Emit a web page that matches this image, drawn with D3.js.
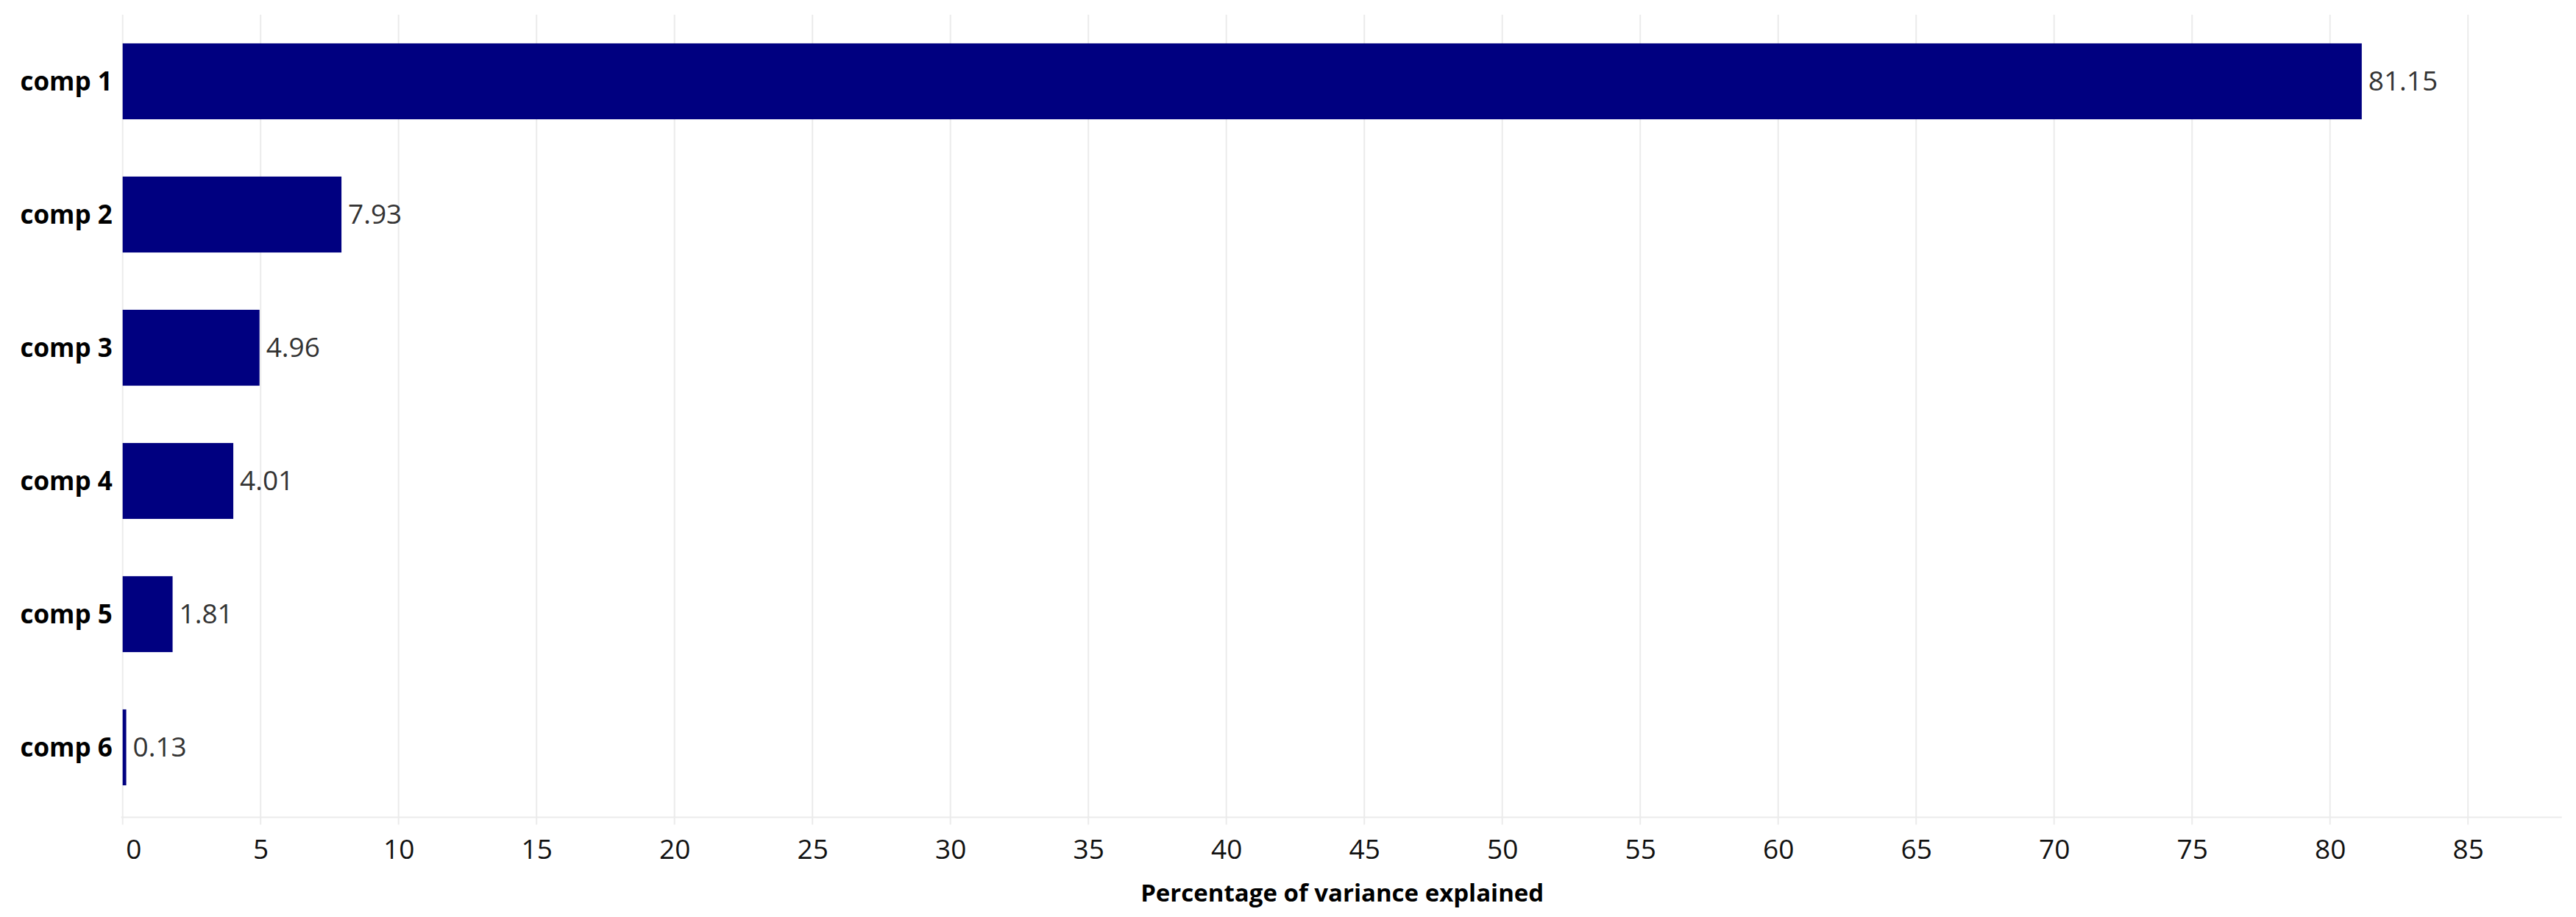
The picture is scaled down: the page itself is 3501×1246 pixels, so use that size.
<!DOCTYPE html>
<html>
<head>
<meta charset="utf-8">
<script src="https://cdn.jsdelivr.net/npm/d3@7"></script>
<style>
  html, body { margin: 0; padding: 0; background: #ffffff; }
  svg { display: block; }
</style>
</head>
<body>
<script>
// ---- Data ----
const categories = ["comp 1", "comp 2", "comp 3", "comp 4", "comp 5", "comp 6"];
const values = [81.15, 7.93, 4.96, 4.01, 1.81, 0.13];
const valueLabels = ["81.15", "7.93", "4.96", "4.01", "1.81", "0.13"];
const xTickValues = [0, 5, 10, 15, 20, 25, 30, 35, 40, 45, 50, 55, 60, 65, 70, 75, 80, 85];
const xAxisTitle = "Percentage of variance explained";

const rows = categories.map((c, i) => ({ cat: c, value: values[i], label: valueLabels[i] }));

// ---- Layout ----
const W = 3501, H = 1246;
const plot = { left: 166.7, right: 3481.7, top: 20, bottom: 1106, axisY: 1110.5 };
const FONT = "'Open Sans', 'Noto Sans', sans-serif";

const svg = d3.select("body").append("svg")
  .attr("width", W).attr("height", H)
  .attr("viewBox", `0 0 ${W} ${H}`);

const x = d3.scaleLinear().domain([0, 88.4]).range([plot.left, plot.right]);
const y = d3.scaleBand().domain(categories)
  .range([plot.top, plot.bottom])
  .paddingInner(0.43).paddingOuter(0.215);

// gridlines (vertical) with small tick extension below axis
svg.append("g").selectAll("line").data(xTickValues).join("line")
  .attr("x1", d => x(d)).attr("x2", d => x(d))
  .attr("y1", plot.top).attr("y2", plot.axisY + 10)
  .attr("stroke", "#ebebeb").attr("stroke-width", 2);

// x axis baseline
svg.append("line")
  .attr("x1", plot.left - 2).attr("x2", plot.right)
  .attr("y1", plot.axisY).attr("y2", plot.axisY)
  .attr("stroke", "#ebebeb").attr("stroke-width", 2);

// bars
svg.append("g").selectAll("rect").data(rows).join("rect")
  .attr("x", x(0))
  .attr("y", d => y(d.cat))
  .attr("width", d => Math.max(0, x(d.value) - x(0)))
  .attr("height", y.bandwidth())
  .attr("fill", "#000080");

// value labels
svg.append("g").selectAll("text").data(rows).join("text")
  .attr("x", d => x(d.value) + 9)
  .attr("y", d => y(d.cat) + y.bandwidth() / 2)
  .attr("dy", "0.35em")
  .attr("font-family", FONT)
  .attr("font-size", 37)
  .attr("fill", "#333333")
  .text(d => d.label);

// category labels
svg.append("g").selectAll("text").data(rows).join("text")
  .attr("x", plot.left - 14)
  .attr("y", d => y(d.cat) + y.bandwidth() / 2)
  .attr("dy", "0.35em")
  .attr("text-anchor", "end")
  .attr("font-family", FONT)
  .attr("font-weight", "bold")
  .attr("font-size", 35)
  .attr("fill", "#000000")
  .text(d => d.cat);

// x axis tick labels (using d3 axis for positioning)
const xAxis = d3.axisBottom(x).tickValues(xTickValues).tickSize(0).tickPadding(0).tickFormat(d3.format("d"));
const gx = svg.append("g")
  .attr("transform", `translate(0, ${plot.axisY})`)
  .call(xAxis);
gx.select(".domain").remove();
gx.selectAll(".tick text")
  .attr("y", 0)
  .attr("dy", 56)
  .attr("font-family", FONT)
  .attr("font-size", 37)
  .attr("fill", "#111111")
  .attr("text-anchor", d => d === 0 ? "start" : "middle")
  .attr("dx", d => d === 0 ? 4 : 0);

// axis title
svg.append("text")
  .attr("x", (plot.left + plot.right) / 2)
  .attr("y", 1225)
  .attr("text-anchor", "middle")
  .attr("font-family", FONT)
  .attr("font-weight", "bold")
  .attr("font-size", 33)
  .attr("fill", "#000000")
  .text(xAxisTitle);
</script>
</body>
</html>
